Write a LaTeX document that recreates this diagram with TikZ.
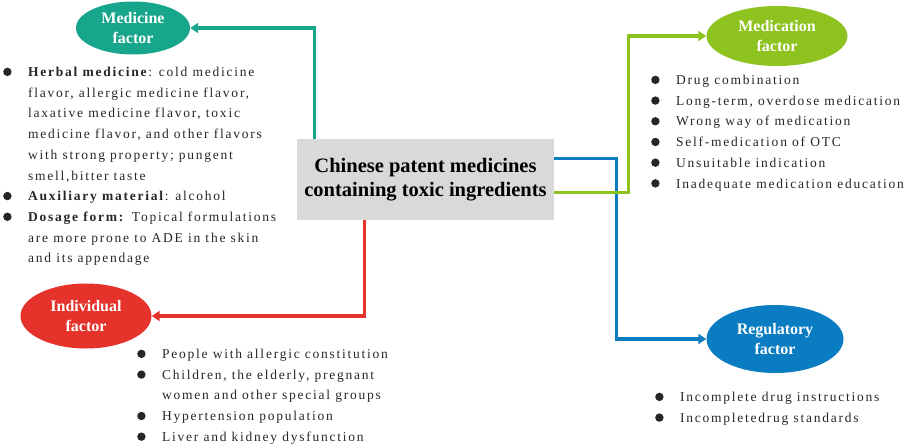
\documentclass[tikz,border=0pt]{standalone}
\usepackage{fontspec}
\setmainfont{Liberation Serif}
\newfontfamily\spaced[LetterSpace=13]{Liberation Serif}
\usetikzlibrary{arrows.meta,shapes.geometric}

\definecolor{medteal}{HTML}{17A68B}
\definecolor{mdcgreen}{HTML}{8DC21F}
\definecolor{regblue}{HTML}{0A7CC1}
\definecolor{indred}{HTML}{E5322A}
\definecolor{boxgray}{HTML}{D9D9D9}

\newcommand{\dotitem}{\makebox[25pt][l]{\raisebox{0.5pt}{\tikz\fill (0,0) circle (4.2pt);}}}
\newcommand{\dotgap}{\hspace*{25pt}}

\begin{document}
\begin{tikzpicture}[x=1pt,y=-1pt,
  factor/.style={ellipse,inner sep=0pt,text=white,align=center,
    font=\bfseries\fontsize{16}{20}\selectfont},
  conn/.style={line width=3.2pt,-{Triangle[width=10pt,length=8pt]}},
  facts/.style={anchor=north west,inner sep=0pt,align=left,text=black!85,
    font=\spaced\fontsize{13.5}{20.7}\selectfont}]
\useasboundingbox (0,0) rectangle (913,447);

% centre box
\node[fill=boxgray,minimum width=257pt,minimum height=81pt,align=center,
  font=\bfseries\fontsize{20.5}{24.5}\selectfont] (cpm) at (425.5,179.5)
  {Chinese patent medicines\\containing toxic ingredients};

% the four factors
\node[factor,fill=medteal,minimum width=114pt,minimum height=53pt] (med) at (133,28) {Medicine\\factor};
\node[factor,fill=mdcgreen,minimum width=141pt,minimum height=60pt] (mdc) at (777,36) {Medication\\factor};
\node[factor,fill=regblue,minimum width=137pt,minimum height=68pt] (reg) at (775,339) {Regulatory\\factor};
\node[factor,fill=indred,minimum width=131pt,minimum height=65pt] (ind) at (86,316) {Individual\\factor};

% connectors
\draw[conn,medteal] ([xshift=18pt]cpm.north west) |- (med.east);
\draw[conn,regblue] ([yshift=-20pt]cpm.north east) -- ++(62,0) |- (reg.west);
\draw[conn,mdcgreen] ([yshift=28pt]cpm.south east) -- ++(74,0) |- (mdc.west);
\draw[conn,indred] ([xshift=68pt]cpm.south west) |- (ind.east);

% lists
\node[facts] (medlist) at (3,67) {%
  \dotitem\textbf{Herbal medicine}: cold medicine\\
  \dotgap flavor, allergic medicine flavor,\\
  \dotgap laxative medicine flavor, toxic\\
  \dotgap medicine flavor, and other flavors\\
  \dotgap with strong property; pungent\\
  \dotgap smell,bitter taste\\
  \dotitem\textbf{Auxiliary material}: alcohol\\
  \dotitem\textbf{Dosage form:} Topical formulations\\
  \dotgap are more prone to ADE in the skin\\
  \dotgap and its appendage};
\node[facts] (mdclist) at (651,75) {%
  \dotitem Drug combination\\
  \dotitem Long-term, overdose medication\\
  \dotitem Wrong way of medication\\
  \dotitem Self-medication of OTC\\
  \dotitem Unsuitable indication\\
  \dotitem Inadequate medication education};
\node[facts] (indlist) at (137,349) {%
  \dotitem People with allergic constitution\\
  \dotitem Children, the elderly, pregnant\\
  \dotgap women and other special groups\\
  \dotitem Hypertension population\\
  \dotitem Liver and kidney dysfunction};
\node[facts] (reglist) at (655,392) {%
  \dotitem Incomplete drug instructions\\
  \dotitem Incompletedrug standards};
\end{tikzpicture}
\end{document}
